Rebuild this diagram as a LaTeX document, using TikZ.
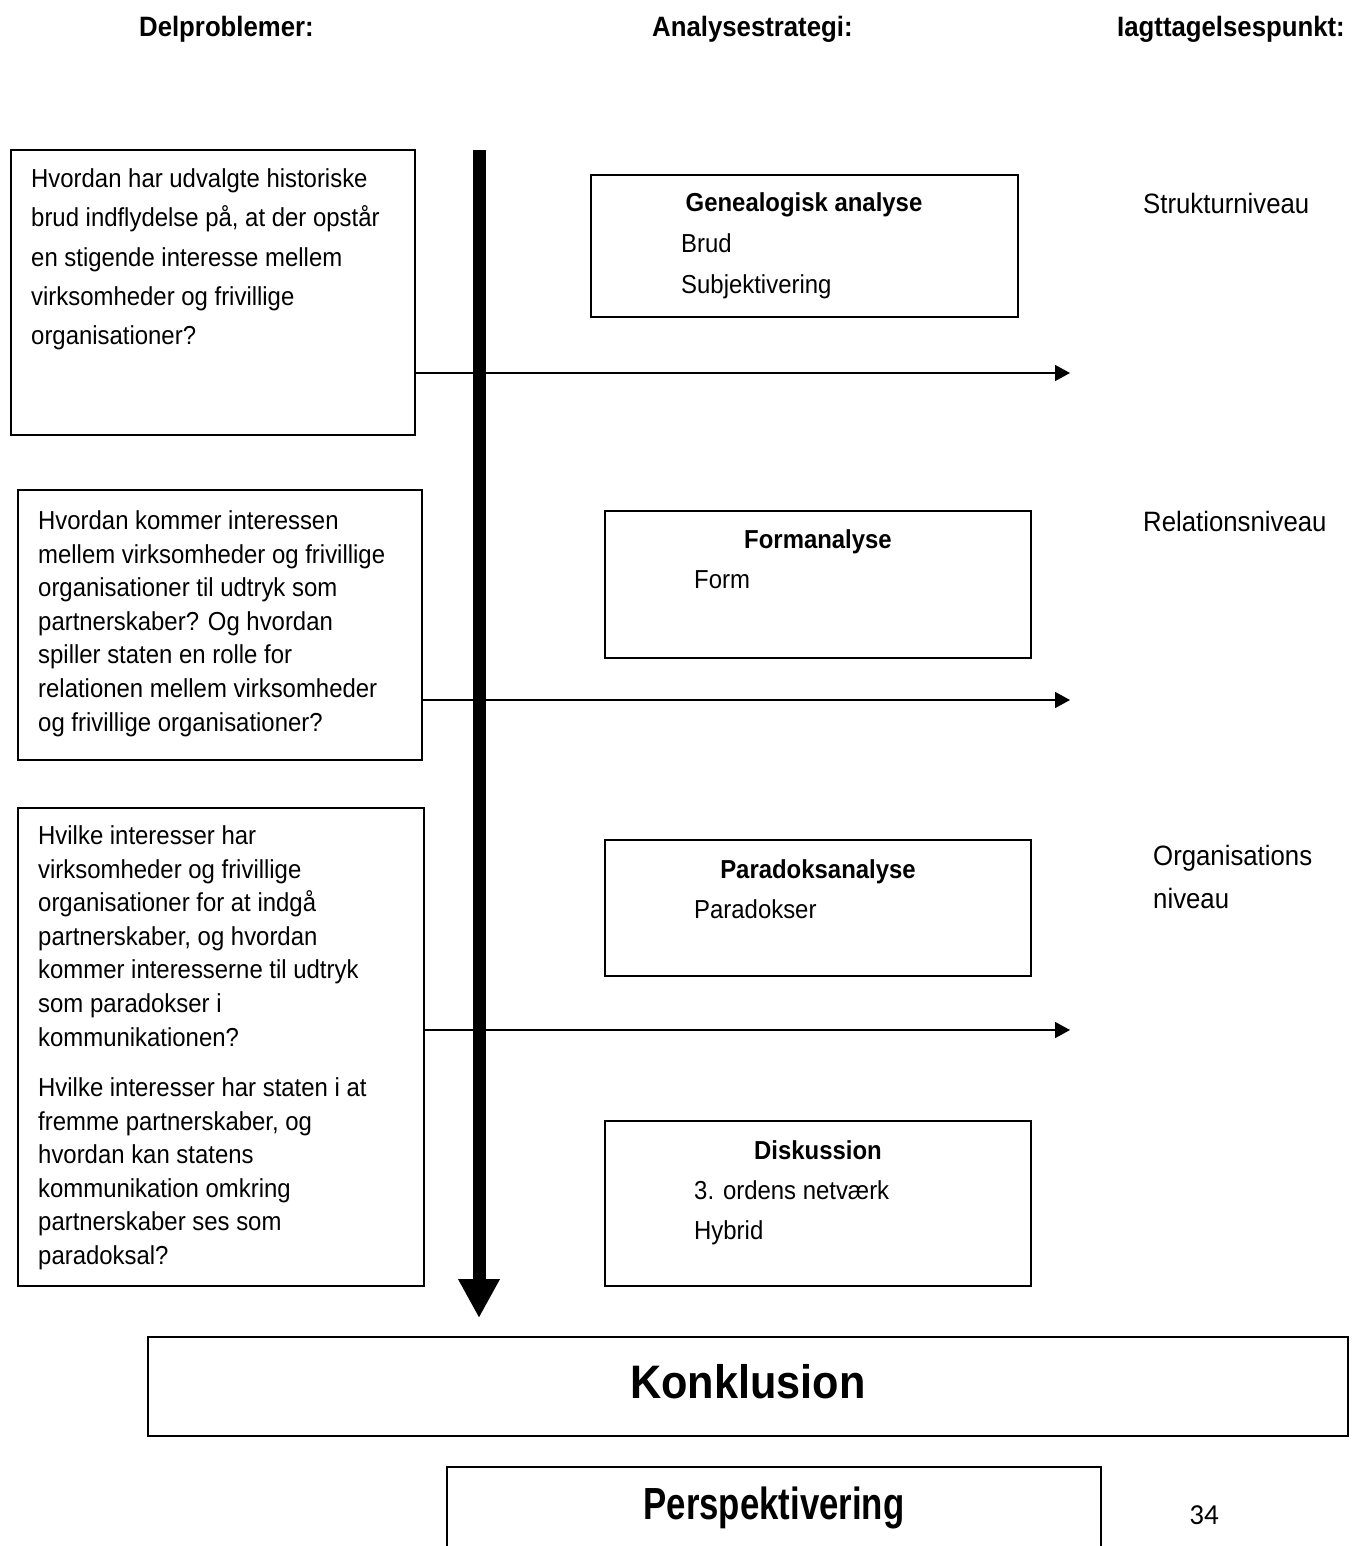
\documentclass[tikz,border=0pt]{standalone}
\usepackage{fontspec}
\usepackage{graphicx}
\setmainfont{Liberation Sans}[FakeStretch=0.92]
\newfontfamily\pagefont{Carlito}
\usetikzlibrary{arrows.meta}
\begin{document}
\begin{tikzpicture}[x=1pt,y=-1pt,
  box/.style={draw, line width=1.6pt, inner sep=0pt},
  body/.style={anchor=base west, inner sep=0pt, font=\fontsize{26}{30}\selectfont},
  ttl/.style={anchor=base, inner sep=0pt, font=\fontsize{26}{30}\selectfont\bfseries},
  hdr/.style={inner sep=0pt, font=\fontsize{28}{32}\selectfont\bfseries},
  lvl/.style={anchor=base west, inner sep=0pt, font=\fontsize{28}{32}\selectfont},
  conn/.style={line width=1.5pt, -{Triangle[length=15pt,width=16pt]}}]
\useasboundingbox (0,0) rectangle (1364,1546);

% headers
\node[hdr, anchor=base east] (h1) at (314,37) {Delproblemer:};
\node[hdr, anchor=base west] (h2) at (652,37) {Analysestrategi:};
\node[hdr, anchor=base west] (h3) at (1117,37) {Iagttagelsespunkt:};

% left question boxes
\node[box, minimum width=404pt, minimum height=285pt] (q1) at (213,292.5) {};
\node[box, minimum width=404pt, minimum height=270pt] (q2) at (220,625) {};
\node[box, minimum width=406pt, minimum height=478pt] (q3) at (221,1047) {};

\foreach \t [count=\i] in {Hvordan har udvalgte historiske,{brud indflydelse på, at der opstår},en stigende interesse mellem,virksomheder og frivillige,organisationer?}
  \node[body] (qa\i) at (31,{188+39*(\i-1)}) {\t};

\foreach \t [count=\i] in {Hvordan kommer interessen,mellem virksomheder og frivillige,organisationer til udtryk som,partnerskaber? Og hvordan,spiller staten en rolle for,relationen mellem virksomheder,og frivillige organisationer?}
  \node[body] (qb\i) at (38,{529.5+33.6*(\i-1)}) {\t};

\foreach \t [count=\i] in {Hvilke interesser har,virksomheder og frivillige,organisationer for at indgå,{partnerskaber, og hvordan},kommer interesserne til udtryk,som paradokser i,kommunikationen?}
  \node[body] (qc\i) at (38,{844.5+33.6*(\i-1)}) {\t};

\foreach \t [count=\i] in {Hvilke interesser har staten i at,{fremme partnerskaber, og},hvordan kan statens,kommunikation omkring,partnerskaber ses som,paradoksal?}
  \node[body] (qd\i) at (38,{1096.5+33.6*(\i-1)}) {\t};

% thick vertical arrow
\coordinate (vtop) at (479,150);
\coordinate (vbot) at (479,1318);
\draw[line width=13pt, -{Triangle[length=39pt,width=39pt]}] (vtop) -- (vbot);

% horizontal connectors
\coordinate (e1) at (1070,373);
\coordinate (e2) at (1070,700);
\coordinate (e3) at (1070,1030);
\draw[conn] (q1.east |- e1) -- (e1);
\draw[conn] (q2.east |- e2) -- (e2);
\draw[conn] (q3.east |- e3) -- (e3);

% analysis strategy boxes
\node[box, minimum width=427pt, minimum height=142pt] (g) at (804.5,246) {};
\node[box, minimum width=426pt, minimum height=147pt] (f) at (818,584.5) {};
\node[box, minimum width=426pt, minimum height=136pt] (p) at (818,908) {};
\node[box, minimum width=426pt, minimum height=165pt] (d) at (818,1203.5) {};

\node[ttl] (gt) at (804,212) {Genealogisk analyse};
\node[body] (g1) at (681,252.5) {Brud};
\node[body] (g2) at (681,293.5) {Subjektivering};

\node[ttl] (ft) at (818,548) {Formanalyse};
\node[body] (f1) at (694,588.5) {Form};

\node[ttl] (pt) at (818,878) {Paradoksanalyse};
\node[body] (p1) at (694,918.5) {Paradokser};

\node[ttl] (dt) at (818,1159) {Diskussion};
\node[body] (d1) at (694,1199.5) {3. ordens netværk};
\node[body] (d2) at (694,1239.5) {Hybrid};

% levels
\node[lvl] (l1) at (1143,214) {Strukturniveau};
\node[lvl] (l2) at (1143,531) {Relationsniveau};
\node[lvl] (l3a) at (1153,865) {Organisations};
\node[lvl] (l3b) at (1153,908) {niveau};

% conclusion
\node[box, minimum width=1200pt, minimum height=99pt] (k) at (748,1386.5) {};
\node[anchor=base, inner sep=0pt, font=\fontsize{47}{50}\selectfont\bfseries] (kt) at (748,1398) {Konklusion};

% perspektivering (open at bottom)
\coordinate (pa) at (447,1546);
\coordinate (pb) at (447,1467);
\coordinate (pc) at (1101,1467);
\coordinate (pd) at (1101,1546);
\draw[line width=1.6pt] (pa) -- (pb) -- (pc) -- (pd);
\node[anchor=base, inner sep=0pt, font=\fontsize{45}{48}\selectfont\bfseries] (pt2) at (774,1519) {\scalebox{0.84}[1]{Perspektivering}};

\node[anchor=base, inner sep=0pt, font=\pagefont\fontsize{29}{32}\selectfont] (pn) at (1204,1524) {34};
\end{tikzpicture}
\end{document}
